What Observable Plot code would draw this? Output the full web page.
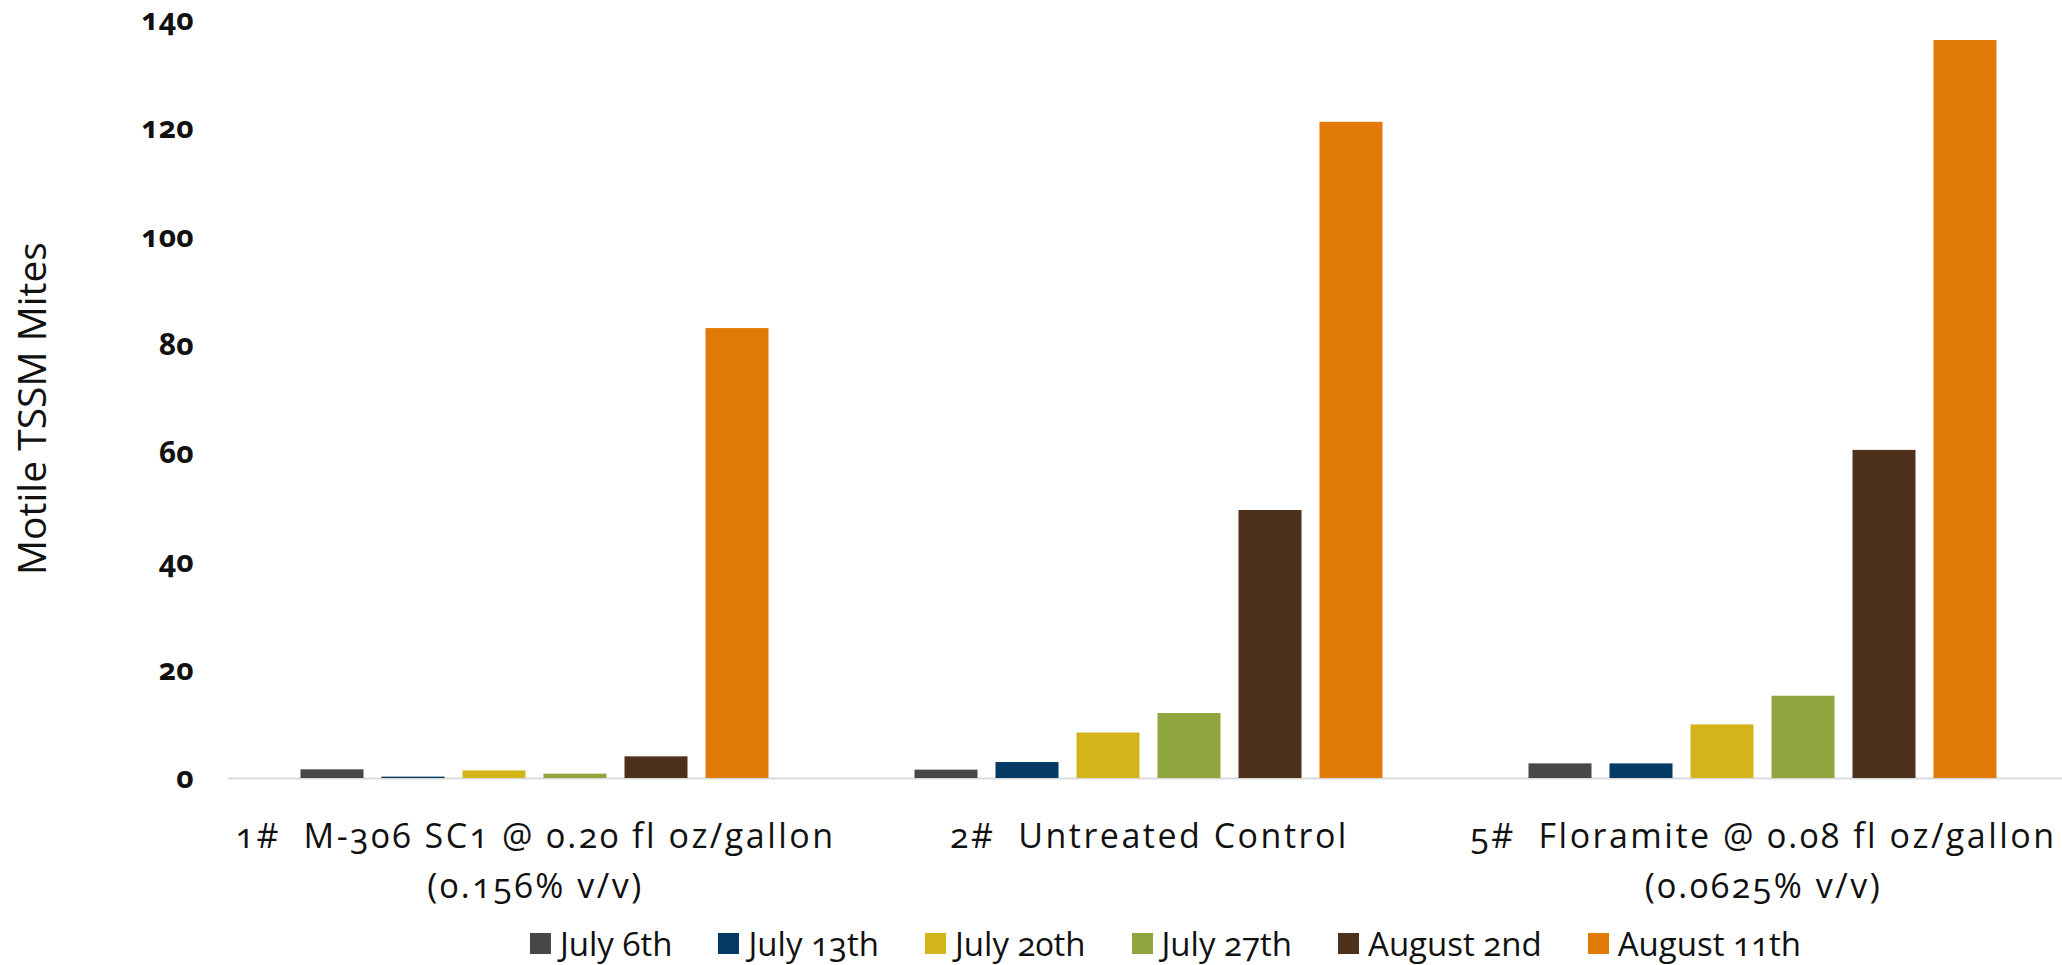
<!DOCTYPE html>
<html>
<head>
<meta charset="utf-8">
<script src="https://cdn.jsdelivr.net/npm/d3@7"></script>
<script src="https://cdn.jsdelivr.net/npm/@observablehq/plot@0.6"></script>
<style>
  html, body { margin: 0; padding: 0; background: #fff; overflow: hidden; }
  #chart svg { max-width: none !important; display: block; }
  svg text { white-space: pre; font-variant-numeric: oldstyle-nums; }
  .lg-swatches { justify-content: center; font-family: "Open Sans", sans-serif; font-size: 33px; color: #111;
    padding-left: 269px; box-sizing: border-box; width: 2062px; margin: -3px 0 0 0 !important; min-height: 44px !important;
    font-variant-numeric: oldstyle-nums; line-height: 1.1; }
  .lg-swatch { margin-right: 46px !important; }
  .lg-swatch:last-child { margin-right: 0 !important; }
  .lg-swatch > svg { margin-right: 9px !important; }
</style>
</head>
<body>
<div id="chart"></div>
<script>
const groups = [
  "1#  M-306 SC1 @ 0.20 fl oz/gallon\n(0.156% v/v)",
  "2#  Untreated Control",
  "5#  Floramite @ 0.08 fl oz/gallon\n(0.0625% v/v)"
];
const dates = ["July 6th", "July 13th", "July 20th", "July 27th", "August 2nd", "August 11th"];
const m306Values = [1.6, 0.25, 1.4, 0.8, 4.0, 83.1];
const untreatedValues = [1.55, 2.95, 8.4, 12.0, 49.5, 121.2];
const floramiteValues = [2.7, 2.7, 9.9, 15.2, 60.6, 136.3];
const colors = ["#474747", "#043a63", "#d4b519", "#8fa63e", "#4d311d", "#e07b08"];
const yTicks = [0, 20, 40, 60, 80, 100, 120, 140];

const seriesByGroup = [m306Values, untreatedValues, floramiteValues];
const table = [];
groups.forEach((g, i) => dates.forEach((d, j) => table.push({group: g, date: d, value: seriesByGroup[i][j]})));

const chart = Plot.plot({
  width: 2070,
  height: 925,
  marginLeft: 227.5,
  marginRight: 0,
  marginTop: 20,
  marginBottom: 147,
  style: {fontFamily: "'Open Sans', sans-serif", background: "#fff", color: "#111", overflow: "visible", maxWidth: "none"},
  fx: {domain: groups, padding: 0, label: null},
  x: {domain: dates, paddingInner: 0.218, paddingOuter: 0.863, axis: null},
  y: {domain: [0, 140]},
  color: {domain: dates, range: colors},
  marks: [
    Plot.ruleY([0], {stroke: "#d9d9d9", strokeWidth: 2}),
    Plot.barY(table, {fx: "group", x: "date", y: "value", fill: "date"}),
    Plot.axisY({ticks: yTicks, tickSize: 0, tickPadding: 35, fontSize: 30, fontWeight: "bold",
      label: "Motile TSSM Mites", labelAnchor: "center", labelArrow: "none", labelOffset: 210}),
    Plot.axisFx({anchor: "bottom", tickSize: 0, tickPadding: 34, fontSize: 34, lineHeight: 1.47, label: null})
  ]
});
document.getElementById("chart").appendChild(chart);
chart.querySelectorAll("g[aria-label='y-axis label'] text").forEach(t => {
  t.setAttribute("font-size", 39);
  t.setAttribute("font-weight", "normal");
  t.setAttribute("dx", -9);
});
chart.querySelectorAll("g[aria-label='fx-axis tick label'] text").forEach(t => {
  t.setAttribute("letter-spacing", "2.5");
});

const legend = Plot.legend({color: {domain: dates, range: colors}, swatchSize: 21, className: "lg"});
document.body.appendChild(legend);
</script>
</body>
</html>
